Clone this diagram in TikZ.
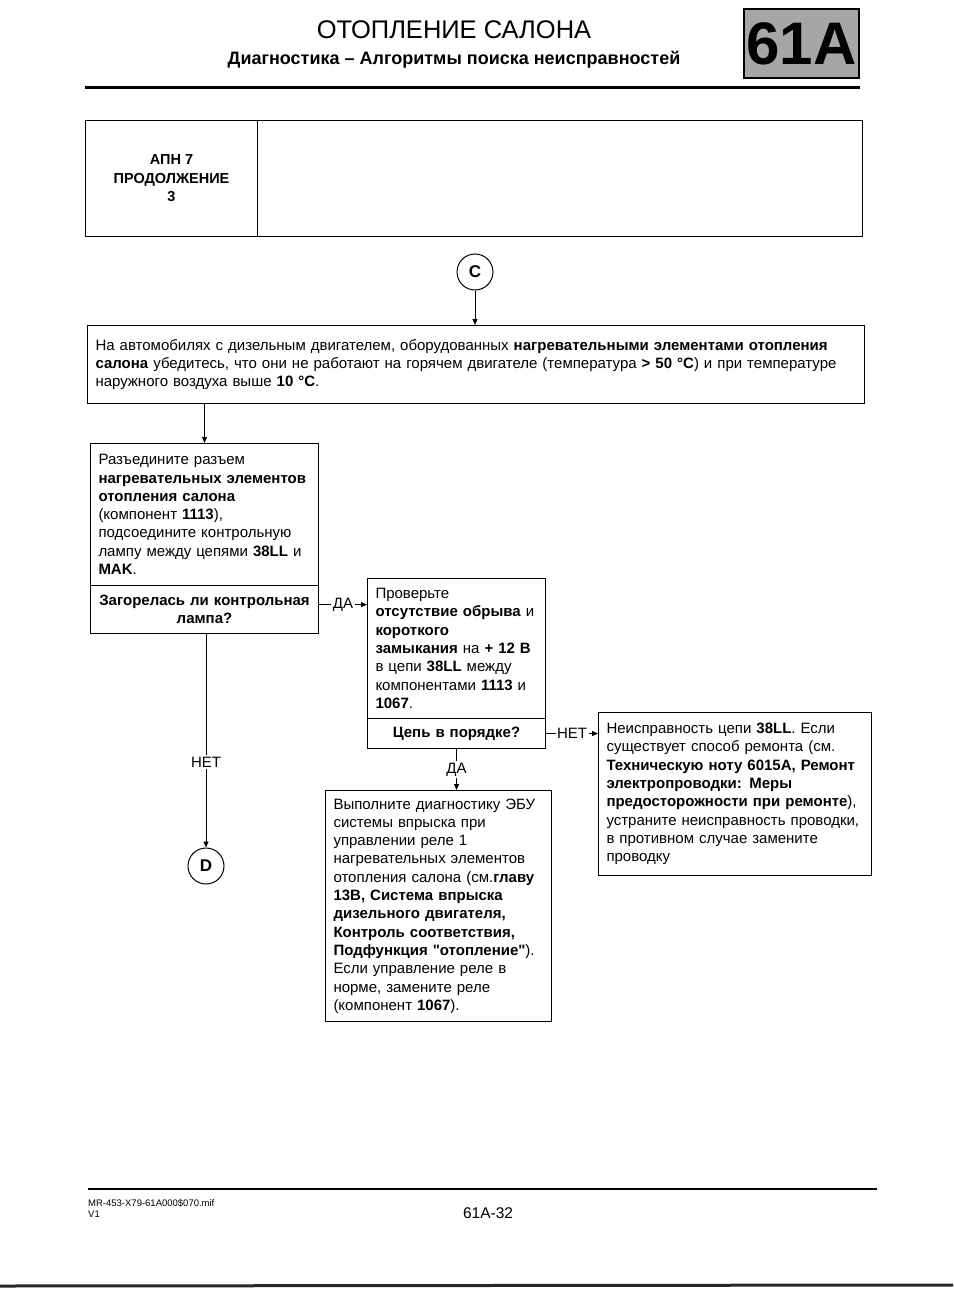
\documentclass[tikz,border=0pt]{standalone}
\usepackage{fontspec}
\setmainfont{Liberation Sans}
\usetikzlibrary{arrows.meta,calc}
\begin{document}
\begin{tikzpicture}[x=1pt,y=-1pt,
 every node/.style={font=\fontsize{15}{18.3}\selectfont},
 box/.style={draw,line width=1pt,rectangle,anchor=north west,inner xsep=8pt,inner ysep=2pt,align=left},
 qbox/.style={draw,line width=1pt,rectangle,anchor=north west,align=center,inner sep=2pt,font=\bfseries\fontsize{15}{18.3}\selectfont},
 circ/.style={draw,circle,line width=1pt,minimum size=36pt,inner sep=0pt,font=\bfseries\fontsize{17}{17}\selectfont},
 arr/.style={line width=0.9pt,-{Triangle[length=6pt,width=5pt]}},
 lbl/.style={fill=white,inner sep=1.5pt,font=\fontsize{15}{15}\selectfont}
]
\fill[white] (0,0) rectangle (953,1295);
\useasboundingbox (0,0) rectangle (953,1295);

% header
\node[font=\fontsize{25.5}{25.5}\selectfont] (title) at (454,30) {ОТОПЛЕНИЕ САЛОНА};
\node[font=\bfseries\fontsize{18}{18}\selectfont] (subtitle) at (454,60) {Диагностика – Алгоритмы поиска неисправностей};
\node[draw,line width=2pt,fill=black!35,minimum width=115pt,minimum height=69pt,anchor=north west,inner sep=0pt,font=\bfseries\fontsize{60}{60}\selectfont] (tab) at (743,8) {61A};
\draw[line width=3pt] (85,88) -- (860,88);

% APN box
\node[draw,line width=1pt,anchor=north west,minimum width=172pt,minimum height=116pt,align=center,font=\bfseries\fontsize{14.5}{18.5}\selectfont] (apn) at (85,120) {АПН 7\\ПРОДОЛЖЕНИЕ\\3};
\node[draw,line width=1pt,anchor=north west,minimum width=605pt,minimum height=116pt] (apnR) at (257,120) {};

% C
\node[circ] (C) at (475,272) {C};

% top box
\node[box,text width=761pt,minimum height=78pt] (top) at (87,325) {На автомобилях с дизельным двигателем, оборудованных \textbf{нагревательными элементами отопления}\\
\textbf{салона} убедитесь, что они не работают на горячем двигателе (температура \textbf{> 50 °C}) и при температуре\\
наружного воздуха выше \textbf{10 °C}.};

% box 1
\node[box,text width=212pt,minimum height=142pt] (b1t) at (90,443) {Разъедините разъем\\
\textbf{нагревательных элементов}\\
\textbf{отопления салона}\\
(компонент \textbf{1113}),\\
подсоедините контрольную\\
лампу между цепями \textbf{38LL} и\\
\textbf{MAK}.};
\node[qbox,text width=224pt,minimum height=48pt] (b1q) at (90,585) {Загорелась ли контрольная\\лампа?};

% box 2
\node[box,text width=162pt,minimum height=140pt] (b2t) at (367,578) {Проверьте\\
\textbf{отсутствие обрыва} и\\
\textbf{короткого}\\
\textbf{замыкания} на \textbf{+ 12 В}\\
в цепи \textbf{38LL} между\\
компонентами \textbf{1113} и\\
\textbf{1067}.};
\node[qbox,text width=174pt,minimum height=30pt] (b2q) at (367,718) {Цепь в порядке?};

% box 3
\node[box,text width=257pt,minimum height=163pt] (b3) at (598,712) {Неисправность цепи \textbf{38LL}. Если\\
существует способ ремонта (см.\\
\textbf{Техническую ноту 6015A, Ремонт}\\
\textbf{электропроводки: Меры}\\
\textbf{предосторожности при ремонте}),\\
устраните неисправность проводки,\\
в противном случае замените\\
проводку};

% box 4
\node[box,text width=210pt,minimum height=231pt] (b4) at (325,790) {Выполните диагностику ЭБУ\\
системы впрыска при\\
управлении реле 1\\
нагревательных элементов\\
отопления салона (см.\textbf{главу}\\
\textbf{13B, Система впрыска}\\
\textbf{дизельного двигателя,}\\
\textbf{Контроль соответствия,}\\
\textbf{Подфункция \textquotedbl отопление\textquotedbl}).\\
Если управление реле в\\
норме, замените реле\\
(компонент \textbf{1067}).};

% D
\node[circ] (D) at (206,866) {D};

% connectors
\draw[arr] (C.south) -- (C.south |- top.north);
\draw[arr] (top.south -| b1t.north) -- (b1t.north);
\draw[arr] ($(b1q.north east)!0.4!(b1q.south east)$) coordinate (da1s) -- (da1s -| b2t.west) node[lbl,midway] (lda1) {ДА};
\draw[arr] (b2q.east) -- (b2q.east -| b3.west) node[lbl,midway] (lnet2) {НЕТ};
\draw[arr] (b2q.south) -- (b2q.south |- b4.north) node[lbl,pos=0.5] (lda2) {ДА};
\draw[arr] (b1q.south -| D) -- (D.north) node[lbl,pos=0.6] (lnet1) {НЕТ};

% footer
\draw[line width=2.5pt] (88,1189) -- (877,1189);
\node[anchor=north west,inner sep=0pt,align=left,font=\fontsize{9.5}{11}\selectfont] (fname) at (88,1199) {MR-453-X79-61A000\$070.mif\\V1};
\node[font=\fontsize{15.5}{15.5}\selectfont] (page) at (488,1213) {61A-32};
\draw[line width=3pt,black!85] (0,1286) -- (953,1285);
\end{tikzpicture}
\end{document}
